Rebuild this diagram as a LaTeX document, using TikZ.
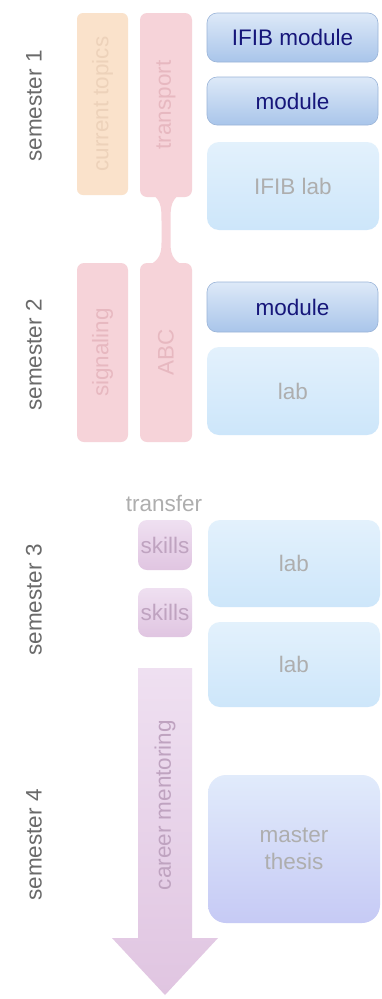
\documentclass[tikz,border=0pt]{standalone}
\usepackage{fontspec}
\setmainfont{Liberation Sans}
\usetikzlibrary{calc}
\definecolor{semtext}{HTML}{6A6A6A}
\definecolor{peachfill}{HTML}{FAE2CB}
\definecolor{peachtext}{HTML}{EDD2BA}
\definecolor{pinkfill}{HTML}{F6D3D9}
\definecolor{pinktext}{HTML}{E7B8C0}
\definecolor{modtop}{HTML}{DDE9F8}
\definecolor{modbot}{HTML}{A9C5EA}
\definecolor{modedge}{HTML}{9AB4D8}
\definecolor{modtext}{HTML}{16167A}
\definecolor{labtop}{HTML}{E3F1FC}
\definecolor{labbot}{HTML}{CDE6FA}
\definecolor{labtext}{HTML}{AEAEAE}
\definecolor{lilactop}{HTML}{EFE0F1}
\definecolor{lilacbot}{HTML}{E0C5E1}
\definecolor{lilactext}{HTML}{BFA3C0}
\definecolor{thesistop}{HTML}{E1EBFB}
\definecolor{thesisbot}{HTML}{C6CAF5}
\tikzset{
  lbl/.style={font=\fontsize{22.5}{27}\selectfont},
  semlabel/.style={lbl, text=semtext, rotate=90},
  peachbox/.style={lbl, fill=peachfill, text=peachtext, rounded corners=6pt, inner sep=0pt},
  pinkbox/.style={lbl, fill=pinkfill, text=pinktext, rounded corners=7pt, inner sep=0pt},
  modbox/.style={lbl, top color=modtop, bottom color=modbot, draw=modedge, line width=0.6pt, text=modtext, rounded corners=10pt, inner sep=0pt, minimum width=171pt},
  labbox/.style={lbl, top color=labtop, bottom color=labbot, text=labtext, rounded corners=12pt, inner sep=0pt, minimum width=172pt},
  skillbox/.style={lbl, top color=lilactop, bottom color=lilacbot, text=lilactext, rounded corners=9pt, inner sep=0pt, minimum width=54pt},
  thesisbox/.style={lbl, top color=thesistop, bottom color=thesisbot, text=labtext, rounded corners=18pt, inner sep=0pt, minimum width=172pt, align=center},
}
\begin{document}
\begin{tikzpicture}[x=1pt,y=-1pt]
\useasboundingbox (0,0) rectangle (381,999);
\fill[white] (0,0) rectangle (381,999);

% semester labels
\node[semlabel] (s1) at (34,106) {semester 1};
\node[semlabel] (s2) at (34,355) {semester 2};
\node[semlabel] (s3) at (34,600) {semester 3};
\node[semlabel] (s4) at (34,845) {semester 4};

% left columns
\node[peachbox, minimum width=51pt, minimum height=182pt] (cur) at (102.5,104) {};
\node[lbl, text=peachtext, rotate=90] at (cur.center) {current topics};
\node[pinkbox, minimum width=52pt, minimum height=184pt] (transport) at (166,105) {};
\node[lbl, text=pinktext, rotate=90] at (transport.center) {transport};
\node[pinkbox, minimum width=51pt, minimum height=179pt] (signal) at (102.5,352.5) {};
\node[lbl, text=pinktext, rotate=90] at (signal.center) {signaling};
\node[pinkbox, minimum width=52pt, minimum height=179pt] (abc) at (166,352.5) {};
\node[lbl, text=pinktext, rotate=90] at (abc.center) {ABC};

% neck between transport and ABC
\fill[pinkfill] ($(transport.south)+(-18,-6)$)
  .. controls ($(transport.south)+(-5,2)$) and ($(transport.south)+(-4.5,8)$) .. ($(transport.south)+(-4.5,24)$)
  -- ($(abc.north)+(-4.5,-20)$)
  .. controls ($(abc.north)+(-4.5,-6)$) and ($(abc.north)+(-8,-1)$) .. ($(abc.north)+(-24,6)$)
  -- ($(abc.north)+(24,6)$)
  .. controls ($(abc.north)+(8,-1)$) and ($(abc.north)+(4.5,-6)$) .. ($(abc.north)+(4.5,-20)$)
  -- ($(transport.south)+(4.5,24)$)
  .. controls ($(transport.south)+(4.5,8)$) and ($(transport.south)+(5,2)$) .. ($(transport.south)+(18,-6)$)
  -- cycle;

% right column
\node[modbox, minimum height=49pt] (ifibmod) at (292.5,37.5) {IFIB module};
\node[modbox, minimum height=48pt] (mod1) at (292.5,101) {module};
\node[labbox, minimum height=88pt] (ifiblab) at (293,186) {IFIB lab};
\node[modbox, minimum height=50pt] (mod2) at (292.5,307) {module};
\node[labbox, minimum height=88pt] (lab2) at (293,391) {lab};
\node[labbox, minimum height=87pt] (lab3a) at (294,563.5) {lab};
\node[labbox, minimum height=85pt] (lab3b) at (294,664.5) {lab};
\node[thesisbox, minimum height=148pt] (thesis) at (294,849) {master\\thesis};

% transfer skills
\node[lbl, text=labtext] (transfer) at (164,503) {transfer};
\node[skillbox, minimum height=50pt] (sk1) at (165,545) {skills};
\node[skillbox, minimum height=49pt] (sk2) at (165,612.5) {skills};

% career mentoring arrow
\coordinate (atop) at (165,668);
\coordinate (atip) at (165,995);
\shade[top color=lilactop, bottom color=lilacbot]
  ($(atop)+(-27,0)$) -- ($(atop)+(27,0)$) -- (192,938) -- (218,938) -- (atip) -- (112,938) -- (138,938) -- cycle;
\node[lbl, text=lilactext, rotate=90] (career) at (165,805) {career mentoring};
\end{tikzpicture}
\end{document}
